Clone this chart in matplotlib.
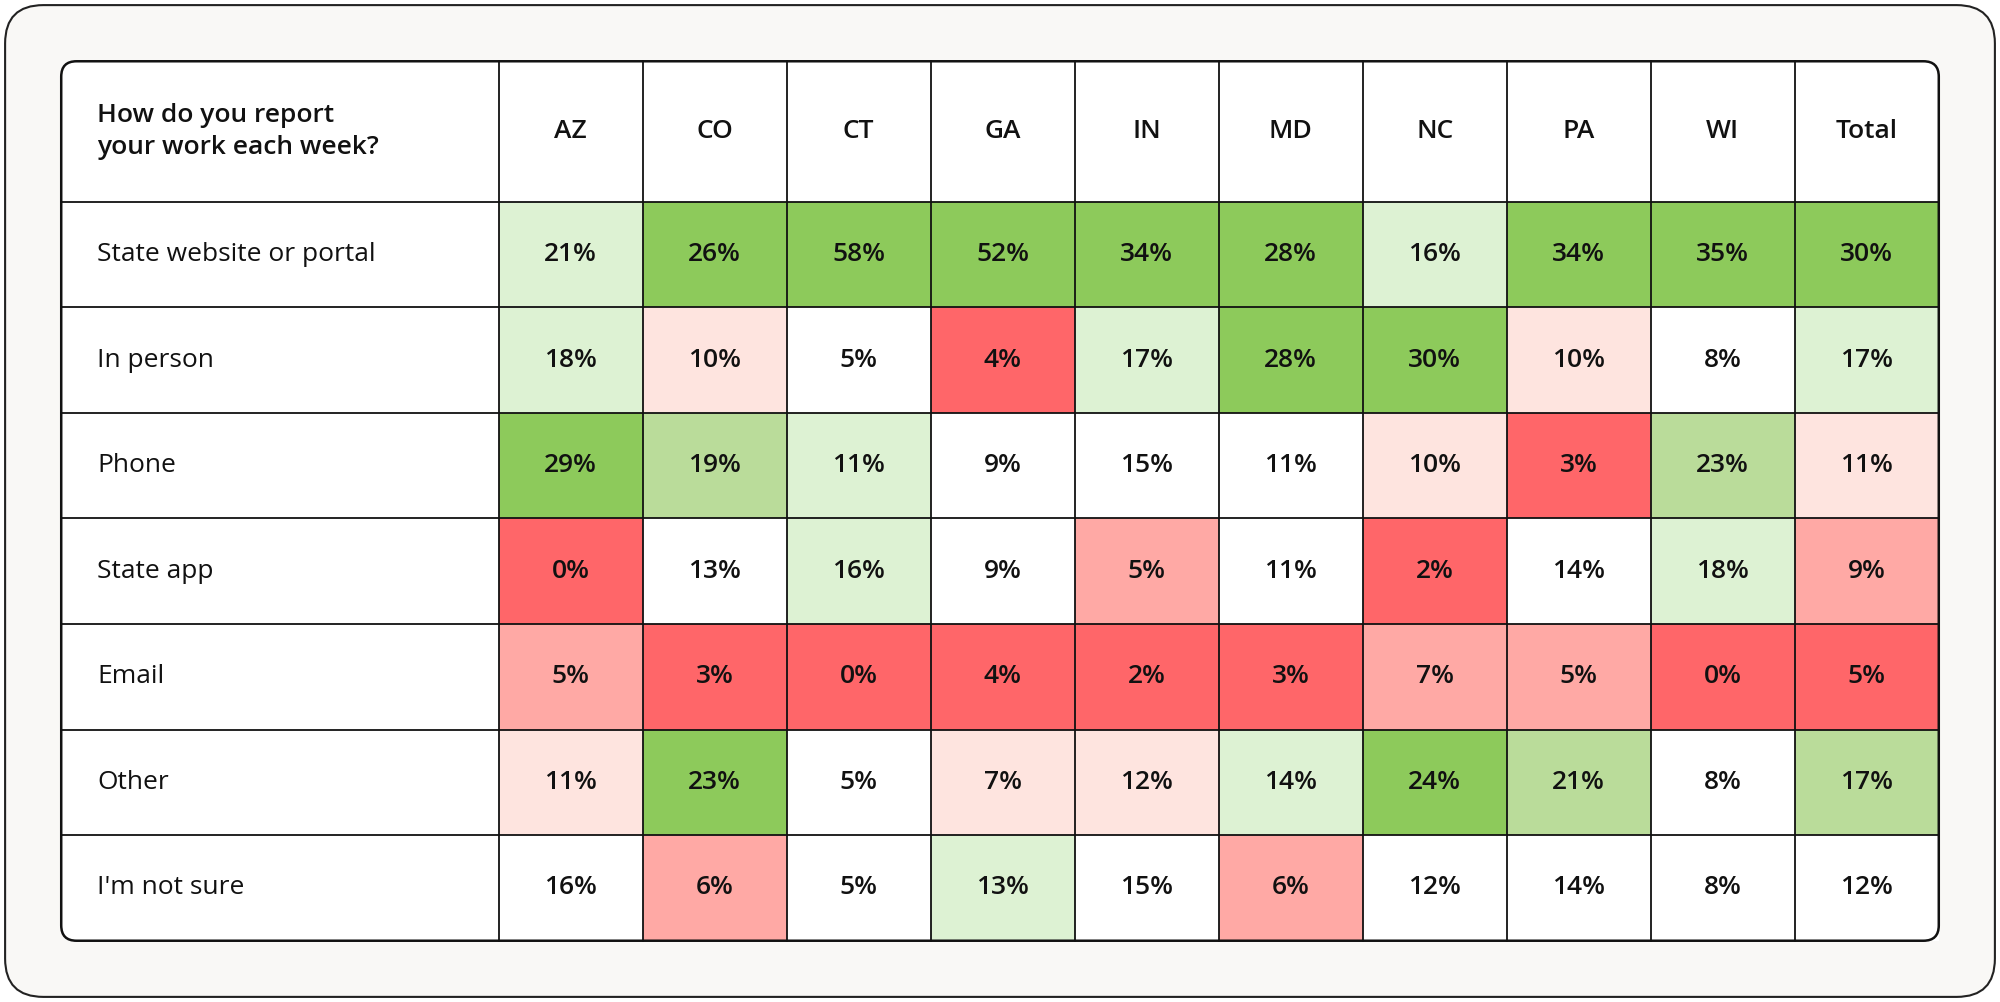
import matplotlib
matplotlib.use("Agg")
import matplotlib.pyplot as plt
from matplotlib.patches import FancyBboxPatch, Rectangle

states = ["AZ", "CO", "CT", "GA", "IN", "MD", "NC", "PA", "WI", "Total"]
rows = ["State website or portal", "In person", "Phone", "State app", "Email", "Other", "I'm not sure"]
values = [
    [21, 26, 58, 52, 34, 28, 16, 34, 35, 30],
    [18, 10, 5, 4, 17, 28, 30, 10, 8, 17],
    [29, 19, 11, 9, 15, 11, 10, 3, 23, 11],
    [0, 13, 16, 9, 5, 11, 2, 14, 18, 9],
    [5, 3, 0, 4, 2, 3, 7, 5, 0, 5],
    [11, 23, 5, 7, 12, 14, 24, 21, 8, 17],
    [16, 6, 5, 13, 15, 6, 12, 14, 8, 12],
]
# shading class: 3 dark green, 2 mid green, 1 light green, 0 white, -1 light pink, -2 mid pink, -3 red
shade = [
    [1, 3, 3, 3, 3, 3, 1, 3, 3, 3],
    [1, -1, 0, -3, 1, 3, 3, -1, 0, 1],
    [3, 2, 1, 0, 0, 0, -1, -3, 2, -1],
    [-3, 0, 1, 0, -2, 0, -3, 0, 1, -2],
    [-2, -3, -3, -3, -3, -3, -2, -2, -3, -3],
    [-1, 3, 0, -1, -1, 1, 3, 2, 0, 2],
    [0, -2, 0, 1, 0, -2, 0, 0, 0, 0],
]
colors = {3: "#8dca5b", 2: "#badc9a", 1: "#ddf2d3", 0: "#ffffff",
          -1: "#fee4df", -2: "#ffa9a5", -3: "#ff6669"}

W, H = 1568, 785
fig = plt.figure(figsize=(20, 10.02), dpi=100)
ax = fig.add_axes([0, 0, 1, 1])
ax.set_xlim(0, W); ax.set_ylim(H, 0); ax.axis("off")
font = "Open Sans"
fs = 19

ax.add_patch(FancyBboxPatch((4, 4), W - 8, H - 8, boxstyle="round,pad=0,rounding_size=30",
                            fc="#f9f8f6", ec="#222222", lw=1.5))
x0, x1, y0, y1 = 48, 1520, 48, 737
ax.add_patch(FancyBboxPatch((x0, y0), x1 - x0, y1 - y0, boxstyle="round,pad=0,rounding_size=12",
                            fc="white", ec="none"))
c0 = 391
cw = (x1 - c0) / len(states)
hh = 158
rh = (y1 - hh) / len(rows)

for i, r in enumerate(rows):
    for j, s in enumerate(states):
        ax.add_patch(Rectangle((c0 + j * cw, hh + i * rh), cw, rh, fc=colors[shade[i][j]], ec="none"))
        ax.text(c0 + (j + 0.5) * cw, hh + (i + 0.5) * rh, f"{values[i][j]}%", ha="center", va="center",
                fontsize=fs, fontweight="semibold", family=font, color="#111111")
    ax.text(76, hh + (i + 0.5) * rh, r, ha="left", va="center", fontsize=fs, family=font, color="#111111")
for j, s in enumerate(states):
    ax.text(c0 + (j + 0.5) * cw, (y0 + hh) / 2, s, ha="center", va="center",
            fontsize=fs, fontweight="semibold", family=font, color="#111111")
ax.text(76, (y0 + hh) / 2, "How do you report\nyour work each week?", ha="left", va="center",
        fontsize=fs, fontweight="semibold", family=font, color="#111111", linespacing=1.35)

for i in range(len(rows)):
    y = hh + i * rh
    ax.plot([x0, x1], [y, y], color="#111111", lw=1.3)
for j in range(len(states)):
    x = c0 + j * cw
    ax.plot([x, x], [y0, y1], color="#111111", lw=1.3)
ax.add_patch(FancyBboxPatch((x0, y0), x1 - x0, y1 - y0, boxstyle="round,pad=0,rounding_size=12",
                            fc="none", ec="#111111", lw=1.8))
fig.savefig("out.png", dpi=100)
